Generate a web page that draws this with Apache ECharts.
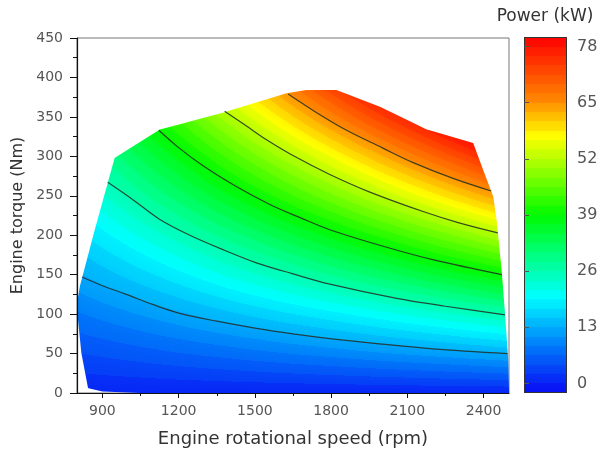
<!DOCTYPE html>
<html><head><meta charset="utf-8">
<script src="https://cdn.jsdelivr.net/npm/echarts@6/dist/echarts.min.js"></script>
<style>html,body{margin:0;padding:0;background:#fff}#c{width:603px;height:455px}</style>
</head><body><div id="c"></div>
<script>
// ---- data ----
const SPEEDS = [800, 1000, 1200, 1400, 1600, 1800, 2000, 2200, 2400, 2500];   // rpm grid
const TORQUES = [0, 50, 100, 150, 200, 250, 300, 350, 400];                   // Nm grid
// power (kW) at each grid node, rows = torque, columns = speed
const POWER = [
  [0, 0, 0, 0, 0, 0, 0, 0, 0, 0],
  [4.2, 5.2, 6.3, 7.3, 8.4, 9.4, 10.5, 11.5, 12.6, 13.1],
  [8.4, 10.5, 12.6, 14.7, 16.8, 18.8, 20.9, 23.0, 25.1, 26.2],
  [12.6, 15.7, 18.8, 22.0, 25.1, 28.3, 31.4, 34.6, 37.7, 39.3],
  [16.8, 20.9, 25.1, 29.3, 33.5, 37.7, 41.9, 46.1, 50.3, 52.4],
  [20.9, 26.2, 31.4, 36.7, 41.9, 47.1, 52.4, 57.6, 62.8, 65.4],
  [25.1, 31.4, 37.7, 44.0, 50.3, 56.5, 62.8, 69.1, 75.4, 78.5],
  [29.3, 36.7, 44.0, 51.3, 58.6, 66.0, 73.3, 80.6, 88.0, 91.6],
  [33.5, 41.9, 50.3, 58.6, 67.0, 75.4, 83.8, 92.2, 100.5, 104.7]
];
// operating envelope [speed, torque]
const BOUNDARY = [
  [845, 6], [900, 2], [1050, 0], [2500, 0], [2500, 4], [2497, 42], [2484, 102], [2471, 156],
  [2451, 220], [2438, 249], [2398, 283], [2359, 317], [2176, 334], [1992, 363], [1821, 384],
  [1703, 384], [1624, 380], [1381, 356], [1126, 334], [948, 298], [870, 207], [811, 135],
  [801, 115], [804, 93], [817, 51], [843, 7]
];
// iso-power lines [speed, torque]
const CONTOUR_13 = [[820, 147], [900, 136], [994, 125], [1100, 112], [1204, 101], [1350, 91], [1506, 82], [1650, 75], [1795, 69], [2000, 62], [2200, 56], [2494, 50]];
const CONTOUR_26 = [[921, 267], [1020, 245], [1126, 220], [1244, 200], [1380, 181], [1506, 165], [1650, 151], [1795, 138], [2058, 120], [2250, 110], [2485, 99]];
const CONTOUR_39 = [[1122, 333], [1200, 311], [1296, 288], [1420, 263], [1559, 239], [1680, 222], [1795, 207], [2005, 186], [2200, 169], [2472, 150]];
const CONTOUR_52 = [[1381, 357], [1460, 340], [1546, 321], [1650, 301], [1795, 277], [1950, 255], [2162, 230], [2300, 216], [2456, 203]];
const CONTOUR_65 = [[1631, 379], [1740, 356], [1861, 333], [2000, 311], [2123, 292], [2280, 272], [2430, 256]];
const X_MAJOR = [900, 1200, 1500, 1800, 2100, 2400];
const X_MINOR = [1050, 1350, 1650, 1950, 2250];
const COLORBAR_TICKS = [0, 13, 26, 39, 52, 65, 78];
const POWER_RANGE = [-2.2, 80.2];

// ---- styling ----
const BAND = 13 / 6;
const BAND_MIX = 0.6;
const STOPS = [
  [0.00, [10, 10, 245]], [0.135, [0, 125, 250]], [0.27, [0, 255, 255]], [0.385, [0, 255, 130]],
  [0.50, [0, 250, 0]], [0.61, [128, 255, 0]], [0.72, [255, 255, 0]], [0.83, [255, 128, 0]], [1.0, [255, 0, 0]]
];
function colorOf(p) {
  const b = (Math.floor(p / BAND) + 0.5) * BAND;
  const m = BAND_MIX * b + (1 - BAND_MIX) * p;
  let t = (m - POWER_RANGE[0]) / (POWER_RANGE[1] - POWER_RANGE[0]);
  t = Math.max(0, Math.min(1, t));
  for (let i = 1; i < STOPS.length; i++) {
    if (t <= STOPS[i][0]) {
      const a = STOPS[i - 1], c = STOPS[i];
      const f = (t - a[0]) / (c[0] - a[0]);
      return [0, 1, 2].map(k => Math.round(a[1][k] + (c[1][k] - a[1][k]) * f));
    }
  }
  return STOPS[STOPS.length - 1][1];
}

const cells = [];
for (let j = 0; j < TORQUES.length - 1; j++) {
  for (let i = 0; i < SPEEDS.length - 1; i++) {
    cells.push([SPEEDS[i], TORQUES[j], SPEEDS[i + 1], TORQUES[j + 1],
      POWER[j][i], POWER[j][i + 1], POWER[j + 1][i], POWER[j + 1][i + 1]]);
  }
}

function renderField(params, api) {
  const n0 = api.value(0), t0 = api.value(1), n1 = api.value(2), t1 = api.value(3);
  const p00 = api.value(4), p10 = api.value(5), p01 = api.value(6), p11 = api.value(7);
  const tl = api.coord([n0, t1]), br = api.coord([n1, t0]);
  const x0 = Math.round(tl[0]), y0 = Math.round(tl[1]);
  const w = Math.round(br[0]) - x0, h = Math.round(br[1]) - y0;
  if (w <= 0 || h <= 0) return null;
  const cv = document.createElement('canvas');
  cv.width = w; cv.height = h;
  const ctx = cv.getContext('2d');
  const img = ctx.createImageData(w, h);
  for (let py = 0; py < h; py++) {
    const v = 1 - (py + 0.5) / h;
    for (let px = 0; px < w; px++) {
      const u = (px + 0.5) / w;
      const p = p00 * (1 - u) * (1 - v) + p10 * u * (1 - v) + p01 * (1 - u) * v + p11 * u * v;
      const c = colorOf(p);
      const k = (py * w + px) * 4;
      img.data[k] = c[0]; img.data[k + 1] = c[1]; img.data[k + 2] = c[2]; img.data[k + 3] = 255;
    }
  }
  ctx.putImageData(img, 0, 0);
  ctx.globalCompositeOperation = 'destination-in';
  ctx.beginPath();
  BOUNDARY.forEach((b, k) => {
    const q = api.coord(b);
    if (k === 0) ctx.moveTo(q[0] - x0, q[1] - y0); else ctx.lineTo(q[0] - x0, q[1] - y0);
  });
  ctx.closePath();
  ctx.fillStyle = '#000';
  ctx.fill();
  return { type: 'image', style: { image: cv, x: x0, y: y0, width: w, height: h } };
}

function renderBar(params, api) {
  const tl = api.coord([api.value(0), api.value(3)]), br = api.coord([api.value(2), api.value(1)]);
  const x0 = Math.round(tl[0]), y0 = Math.round(tl[1]);
  const w = Math.round(br[0]) - x0, h = Math.round(br[1]) - y0;
  const cv = document.createElement('canvas');
  cv.width = w; cv.height = h;
  const ctx = cv.getContext('2d');
  const lo = api.value(1), hi = api.value(3);
  for (let py = 0; py < h; py++) {
    const val = hi - (py + 0.5) / h * (hi - lo);
    const c = colorOf(val);
    ctx.fillStyle = 'rgb(' + c.join(',') + ')';
    ctx.fillRect(0, py, w, 1);
  }
  return {
    type: 'group', children: [
      { type: 'image', style: { image: cv, x: x0, y: y0, width: w, height: h } },
      { type: 'rect', shape: { x: x0 + 0.5, y: y0 + 0.5, width: w - 1, height: h - 1 }, style: { fill: null, stroke: '#333', lineWidth: 1 } }
    ]
  };
}

const lineStyle = { color: 'rgba(35,45,35,0.85)', width: 1.2 };
function contour(d) {
  return { type: 'line', xAxisIndex: 0, yAxisIndex: 0, data: d, smooth: 0.35, symbol: 'none', lineStyle: lineStyle, silent: true, z: 3 };
}

const chart = echarts.init(document.getElementById('c'), null, { renderer: 'canvas' });
chart.setOption({
  animation: false,
  textStyle: { fontFamily: 'DejaVu Sans' },
  graphic: [{ type: 'text', x: 545, y: 17, style: { text: 'Power (kW)', fontSize: 17, fill: '#333', fontFamily: 'DejaVu Sans', textAlign: 'center', textVerticalAlign: 'middle' } }],
  grid: [
    { left: 77, top: 38, width: 432, height: 355, show: true, borderColor: '#777', borderWidth: 1 },
    { left: 524, top: 37, width: 43, height: 356 }
  ],
  xAxis: [
    {
      gridIndex: 0, type: 'value', min: 800, max: 2500, position: 'bottom', z: 5,
      axisLine: { lineStyle: { color: '#111', width: 1.2 } },
      axisTick: { customValues: X_MAJOR, length: 5, lineStyle: { color: '#111' } },
      axisLabel: { customValues: X_MAJOR, formatter: v => String(v), fontSize: 14, color: '#555', margin: 11 },
      splitLine: { show: false },
      name: 'Engine rotational speed (rpm)', nameLocation: 'middle', nameGap: 37,
      nameTextStyle: { fontSize: 18, color: '#333' }
    },
    {
      gridIndex: 0, type: 'value', min: 800, max: 2500, position: 'bottom', z: 5,
      axisLine: { show: false },
      axisTick: { customValues: X_MINOR, length: 3, lineStyle: { color: '#111' } },
      axisLabel: { show: false }, splitLine: { show: false }
    },
    { gridIndex: 1, type: 'value', min: 0, max: 1, show: false }
  ],
  yAxis: [
    {
      gridIndex: 0, type: 'value', min: 0, max: 450, interval: 50, z: 5,
      axisLine: { show: true, lineStyle: { color: '#111', width: 1.2 } },
      axisTick: { show: true, length: 7, lineStyle: { color: '#111' } },
      minorTick: { show: true, splitNumber: 2, length: 4, lineStyle: { color: '#111' } },
      axisLabel: { fontSize: 14, color: '#555', margin: 14 },
      splitLine: { show: false }, minorSplitLine: { show: false },
      name: 'Engine torque (Nm)', nameLocation: 'middle', nameGap: 50,
      nameTextStyle: { fontSize: 16, color: '#333' }
    },
    {
      gridIndex: 1, type: 'value', min: POWER_RANGE[0], max: POWER_RANGE[1], position: 'right', z: 5,
      axisLine: { show: false },
      axisTick: { show: true, customValues: COLORBAR_TICKS, length: 5, lineStyle: { color: '#555' } },
      axisLabel: { customValues: COLORBAR_TICKS, fontSize: 16, color: '#555', margin: 10 },
      splitLine: { show: false }
    }
  ],
  series: [
    {
      type: 'custom', xAxisIndex: 0, yAxisIndex: 0, data: cells, renderItem: renderField,
      encode: { x: [0, 2], y: [1, 3] }, silent: true, z: 2
    },
    contour(CONTOUR_13), contour(CONTOUR_26), contour(CONTOUR_39), contour(CONTOUR_52), contour(CONTOUR_65),
    {
      type: 'custom', xAxisIndex: 2, yAxisIndex: 1, data: [[0, POWER_RANGE[0], 1, POWER_RANGE[1]]],
      renderItem: renderBar, encode: { x: [0, 2], y: [1, 3] }, silent: true, z: 2
    }
  ]
});
</script></body></html>
